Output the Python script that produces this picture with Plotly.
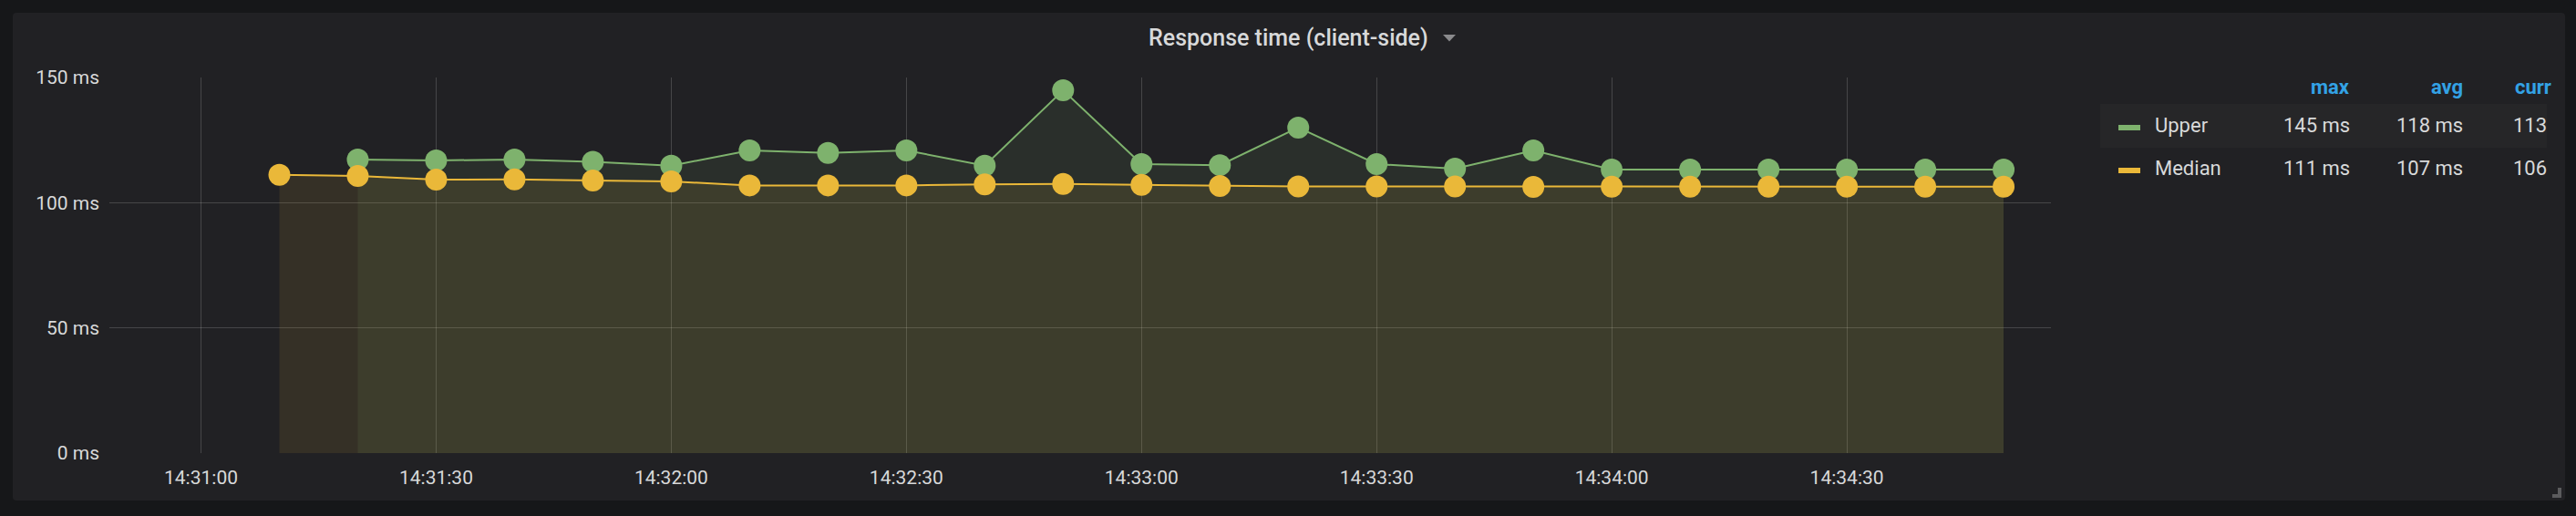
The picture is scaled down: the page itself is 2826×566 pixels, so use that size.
import plotly.graph_objects as go

# ---------------- data ----------------
DAY = "2020-01-01 "
median_times = ["14:31:10", "14:31:20", "14:31:30", "14:31:40", "14:31:50", "14:32:00",
                "14:32:10", "14:32:20", "14:32:30", "14:32:40", "14:32:50", "14:33:00",
                "14:33:10", "14:33:20", "14:33:30", "14:33:40", "14:33:50", "14:34:00",
                "14:34:10", "14:34:20", "14:34:30", "14:34:40", "14:34:50"]
median_ms = [111.1, 110.7, 109.2, 109.3, 108.9, 108.5,
             106.9, 106.9, 106.9, 107.3, 107.5, 107.1,
             106.7, 106.5, 106.5, 106.5, 106.3, 106.4,
             106.4, 106.4, 106.4, 106.4, 106.4]
upper_times = ["14:31:20", "14:31:30", "14:31:40", "14:31:50", "14:32:00",
               "14:32:10", "14:32:20", "14:32:30", "14:32:40", "14:32:50", "14:33:00",
               "14:33:10", "14:33:20", "14:33:30", "14:33:40", "14:33:50", "14:34:00",
               "14:34:10", "14:34:20", "14:34:30", "14:34:40", "14:34:50"]
upper_ms = [117.2, 116.9, 117.2, 116.3, 114.8,
            120.9, 119.9, 120.9, 114.8, 144.9, 115.4,
            115.0, 130.0, 115.4, 113.6, 120.9, 113.2,
            113.2, 113.2, 113.2, 113.2, 113.2]

series_names = ["Upper", "Median"]
series_colors = ["#7EB26D", "#EAB839"]
series_fills = ["rgba(126,178,109,0.1)", "rgba(234,184,57,0.1)"]
legend_columns = ["max", "avg", "curr"]
y_ticks = [0, 50, 100, 150]
title_text = "Response time (client-side)"

# ---------------- geometry ----------------
W, H = 2826, 566
PL, PR, PT, PB = 120, 2250, 85, 497   # plot area in pixels


def px(x):
    return (x - PL) / (PR - PL)


def py(y):
    return (PB - y) / (PB - PT)


FONT = "Roboto, 'Noto Sans', sans-serif"
TXT = "#d8d9da"

fig = go.Figure()
for name, times, vals, col, fc in [
    (series_names[0], upper_times, upper_ms, series_colors[0], series_fills[0]),
    (series_names[1], median_times, median_ms, series_colors[1], series_fills[1]),
]:
    fig.add_trace(go.Scatter(
        x=[DAY + t for t in times], y=vals, name=name,
        mode="lines+markers", fill="tozeroy", fillcolor=fc,
        line=dict(color=col, width=2),
        marker=dict(color=col, size=24, line=dict(width=0)),
        hoverinfo="skip", showlegend=False,
    ))

shapes = []
# panel background with rounded corners
x0, y0, x1, y1, r = 14, 14, 2814, 549, 4
path = (f"M {px(x0 + r)} {py(y0)} L {px(x1 - r)} {py(y0)} Q {px(x1)} {py(y0)} {px(x1)} {py(y0 + r)} "
        f"L {px(x1)} {py(y1 - r)} Q {px(x1)} {py(y1)} {px(x1 - r)} {py(y1)} "
        f"L {px(x0 + r)} {py(y1)} Q {px(x0)} {py(y1)} {px(x0)} {py(y1 - r)} "
        f"L {px(x0)} {py(y0 + r)} Q {px(x0)} {py(y0)} {px(x0 + r)} {py(y0)} Z")
shapes.append(dict(type="path", xref="paper", yref="paper", path=path,
                   fillcolor="#212124", line=dict(width=0), layer="below"))
# hovered legend row background
shapes.append(dict(type="rect", xref="paper", yref="paper",
                   x0=px(2304), x1=px(2794), y0=py(114), y1=py(162),
                   fillcolor="#262628", line=dict(width=0), layer="below"))
# title dropdown triangle
shapes.append(dict(type="path", xref="paper", yref="paper",
                   path=f"M {px(1583)} {py(38)} L {px(1597)} {py(38)} L {px(1590)} {py(45.5)} Z",
                   fillcolor="#8a8a8c", line=dict(width=0)))
# resize handle
shapes.append(dict(type="path", xref="paper", yref="paper",
                   path=(f"M {px(2806)} {py(535)} L {px(2810)} {py(535)} L {px(2810)} {py(546)} "
                         f"L {px(2800)} {py(546)} L {px(2800)} {py(542)} L {px(2806)} {py(542)} Z"),
                   fillcolor="#5b5b5d", line=dict(width=0)))

annotations = [dict(text=title_text, xref="paper", yref="paper", x=px(1413), y=py(41),
                    xanchor="center", yanchor="middle", showarrow=False,
                    font=dict(family=FONT, size=25, color=TXT, weight=500))]

# legend table
col_right = [2580, 2704]
head_y = 95
for label, xr in zip(legend_columns[:2], col_right):
    annotations.append(dict(text=label, xref="paper", yref="paper", x=px(xr), y=py(head_y),
                            xanchor="right", yanchor="middle", showarrow=False,
                            font=dict(family=FONT, size=22, color="#33a2e5", weight=700)))
annotations.append(dict(text=legend_columns[2], xref="paper", yref="paper", x=px(2757), y=py(head_y),
                        xanchor="left", yanchor="middle", showarrow=False,
                        font=dict(family=FONT, size=22, color="#33a2e5", weight=700)))

row_y = [137, 184]
for name, vals, col, ry in zip(series_names, [upper_ms, median_ms], series_colors, row_y):
    shapes.append(dict(type="rect", xref="paper", yref="paper",
                       x0=px(2324), x1=px(2348), y0=py(ry + 6), y1=py(ry),
                       fillcolor=col, line=dict(width=0)))
    annotations.append(dict(text=name, xref="paper", yref="paper", x=px(2362), y=py(ry),
                            xanchor="left", yanchor="middle", showarrow=False,
                            font=dict(family=FONT, size=22, color=TXT)))
    stats = [max(vals), sum(vals) / len(vals)]
    for v, xr in zip(stats, col_right):
        annotations.append(dict(text=f"{round(v)} ms", xref="paper", yref="paper", x=px(xr), y=py(ry),
                                xanchor="right", yanchor="middle", showarrow=False,
                                font=dict(family=FONT, size=22, color=TXT)))
    annotations.append(dict(text=f"{round(vals[-1])}", xref="paper", yref="paper", x=px(2755), y=py(ry),
                            xanchor="left", yanchor="middle", showarrow=False,
                            font=dict(family=FONT, size=22, color=TXT)))

fig.update_layout(
    width=W, height=H,
    margin=dict(l=PL, r=W - PR, t=PT, b=H - PB),
    paper_bgcolor="#161719", plot_bgcolor="rgba(0,0,0,0)",
    font=dict(family=FONT, color=TXT, size=21),
    shapes=shapes, annotations=annotations,
    xaxis=dict(type="date", range=[DAY + "14:30:48.31", DAY + "14:34:56.04"],
               tick0=DAY + "14:31:00", dtick=30000, tickformat="%H:%M:%S",
               showgrid=True, gridcolor="rgba(255,255,255,0.17)", gridwidth=1,
               showline=False, zeroline=False, ticks="", ticklabelstandoff=12,
               tickfont=dict(family=FONT, size=21, color=TXT)),
    yaxis=dict(range=[0, 150], tickvals=y_ticks, ticktext=[f"{v} ms" for v in y_ticks],
               showgrid=True, gridcolor="rgba(255,255,255,0.17)", gridwidth=1,
               showline=False, zeroline=False, ticks="", ticklabelstandoff=10,
               tickfont=dict(family=FONT, size=21, color=TXT)),
)

fig.write_html("out.html", config={"displayModeBar": False},
               post_script="document.body.style.margin='0';document.body.style.background='#161719';")
